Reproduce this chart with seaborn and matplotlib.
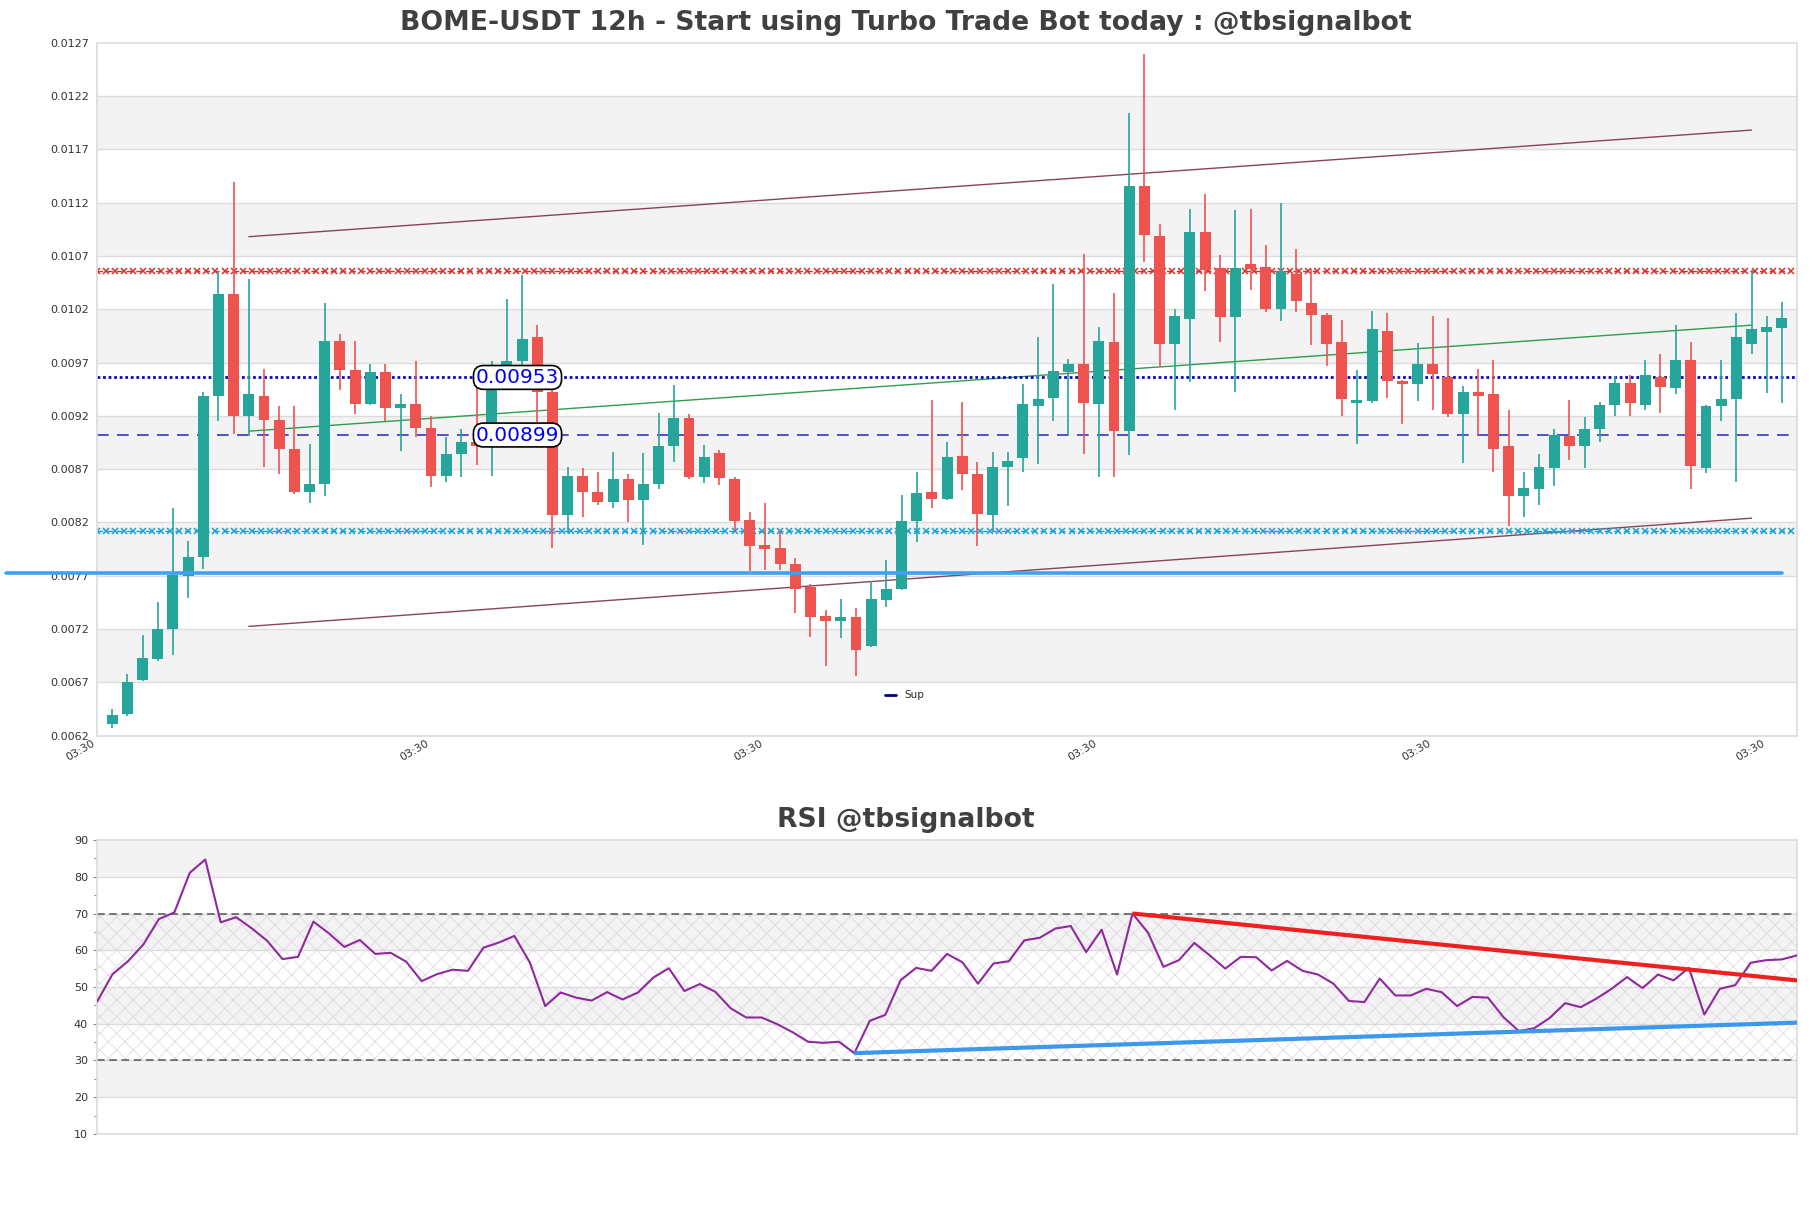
import numpy as np
import pandas as pd
import matplotlib
matplotlib.use("Agg")
import matplotlib.pyplot as plt
from matplotlib.lines import Line2D
import seaborn as sns

# ---------------- data (prices in units of 1e-4 USDT) ----------------
opens = [62.8, 63.7, 66.9, 68.9, 71.7, 76.7, 78.5, 93.6, 103.1, 91.7,
         93.6, 91.3, 88.6, 84.6, 85.3, 98.7, 96.0, 92.8, 95.8, 92.4,
         92.8, 90.6, 86.1, 88.1, 89.2, 88.9, 94.7, 96.8, 99.1, 93.9,
         82.4, 86.1, 84.6, 83.6, 85.8, 83.8, 85.3, 88.9, 91.5, 86.0,
         88.2, 85.8, 81.9, 79.6, 79.3, 77.8, 75.6, 72.9, 72.5, 72.8,
         70.1, 74.4, 75.5, 81.8, 84.6, 83.9, 87.9, 86.2, 82.4, 86.9,
         87.7, 92.6, 93.4, 95.8, 96.6, 92.8, 98.6, 90.3, 113.3, 108.6,
         98.4, 100.8, 108.9, 105.6, 101.0, 105.9, 105.7, 101.7, 105.0, 102.3,
         101.2, 98.6, 92.9, 93.1, 99.7, 95.0, 94.7, 96.6, 95.3, 91.9,
         93.9, 93.7, 88.9, 84.2, 84.8, 86.8, 89.8, 88.9, 90.5, 92.7,
         94.8, 92.7, 95.3, 94.3, 96.9, 86.8, 92.6, 93.3, 98.4, 99.6,
         99.9]
highs = [64.2, 67.5, 71.1, 74.2, 83.1, 80.0, 93.9, 105.3, 113.6, 104.5,
         96.1, 92.6, 92.6, 89.1, 102.3, 99.4, 98.7, 96.6, 96.6, 93.7,
         96.8, 91.7, 89.7, 90.5, 94.5, 96.8, 102.7, 104.9, 100.2, 94.7,
         86.9, 86.8, 86.4, 88.3, 86.2, 88.2, 92.0, 94.6, 91.9, 89.0,
         88.5, 86.0, 82.7, 83.5, 81.0, 78.4, 75.9, 73.5, 74.5, 73.7,
         76.2, 78.2, 84.3, 86.4, 93.2, 89.2, 93.0, 87.4, 88.3, 88.3,
         94.7, 99.1, 104.1, 97.0, 106.9, 100.0, 103.2, 120.1, 125.6, 109.7,
         101.7, 111.1, 112.5, 106.8, 111.0, 111.1, 107.7, 111.7, 107.3, 105.5,
         101.3, 100.7, 96.0, 101.5, 101.3, 95.1, 98.5, 101.1, 100.9, 94.5,
         96.1, 96.9, 92.2, 86.4, 88.1, 90.5, 93.2, 91.6, 93.0, 95.4,
         95.5, 96.9, 97.5, 100.2, 98.6, 92.7, 96.9, 101.3, 105.4, 101.1,
         102.4]
lows = [62.4, 63.5, 66.8, 68.7, 69.3, 74.6, 77.3, 91.2, 90.0, 89.8,
        86.9, 86.2, 84.4, 83.5, 84.2, 94.1, 91.9, 92.7, 91.2, 88.4,
        89.7, 85.0, 85.5, 86.0, 87.1, 86.1, 94.5, 96.5, 91.1, 79.3,
        80.7, 82.2, 83.3, 83.1, 81.7, 79.6, 84.8, 87.4, 85.8, 85.4,
        85.2, 81.0, 77.1, 77.2, 77.2, 73.2, 71.0, 68.2, 70.9, 67.3,
        70.0, 73.8, 75.4, 79.9, 83.1, 83.8, 84.7, 79.5, 80.9, 83.2,
        86.4, 87.2, 91.2, 89.9, 88.1, 86.0, 86.0, 88.0, 106.1, 96.3,
        92.2, 94.9, 103.4, 98.6, 93.9, 103.5, 101.4, 100.6, 101.4, 98.3,
        96.4, 91.7, 89.1, 92.9, 93.4, 90.9, 93.1, 92.2, 91.6, 87.3,
        89.9, 86.4, 81.4, 82.2, 83.3, 85.1, 87.6, 86.8, 89.2, 91.7,
        91.7, 92.2, 92.0, 93.7, 84.8, 86.3, 91.2, 85.5, 97.5, 93.8,
        92.9]
closes = [63.6, 66.7, 69.0, 71.7, 76.8, 78.5, 93.6, 103.1, 91.7, 93.7,
          91.3, 88.6, 84.6, 85.3, 98.7, 96.0, 92.8, 95.8, 92.4, 92.8,
          90.6, 86.1, 88.1, 89.2, 88.9, 94.7, 96.8, 98.9, 93.9, 82.4,
          86.1, 84.6, 83.6, 85.8, 83.8, 85.3, 88.9, 91.5, 86.0, 87.8,
          85.9, 81.8, 79.5, 79.2, 77.8, 75.5, 72.8, 72.5, 72.8, 69.7,
          74.5, 75.5, 81.8, 84.5, 83.9, 87.8, 86.2, 82.5, 86.9, 87.5,
          92.8, 93.3, 95.9, 96.6, 92.9, 98.7, 90.3, 113.3, 108.7, 98.4,
          101.1, 108.9, 105.4, 101.0, 105.6, 105.5, 101.7, 105.3, 102.5, 101.2,
          98.4, 93.3, 93.2, 99.8, 95.0, 94.7, 96.6, 95.6, 91.9, 93.9,
          93.6, 88.6, 84.2, 84.9, 86.9, 89.9, 88.9, 90.5, 92.7, 94.8,
          92.9, 95.5, 94.4, 96.9, 87.0, 92.6, 93.3, 99.1, 99.8, 100.0,
          100.9]
rsi = [46.0, 53.5, 57.0, 61.6, 68.5, 70.3, 81.1, 84.7, 67.6, 69.0,
       66.0, 62.6, 57.6, 58.2, 67.8, 64.6, 60.9, 62.8, 59.0, 59.3,
       56.9, 51.6, 53.5, 54.7, 54.4, 60.7, 62.1, 63.9, 56.7, 44.8,
       48.5, 47.1, 46.3, 48.6, 46.6, 48.5, 52.6, 55.1, 48.9, 50.8,
       48.7, 44.2, 41.7, 41.7, 39.9, 37.7, 35.1, 34.8, 35.1, 32.0,
       40.8, 42.4, 51.9, 55.2, 54.4, 59.0, 56.7, 50.9, 56.4, 57.0,
       62.7, 63.4, 65.9, 66.6, 59.5, 65.6, 53.4, 70.0, 64.8, 55.5,
       57.3, 62.0, 58.6, 55.0, 58.2, 58.1, 54.5, 57.1, 54.4, 53.4,
       50.9, 46.2, 45.9, 52.3, 47.7, 47.7, 49.5, 48.6, 44.8, 47.3,
       47.1, 41.8, 38.0, 38.8, 41.6, 45.6, 44.5, 46.8, 49.5, 52.7,
       49.7, 53.4, 51.8, 55.2, 42.5, 49.5, 50.5, 56.6, 57.3, 57.5,
       58.6]

UNIT = 1e-4
sup_level = 0.00953
mid_level = 0.00899
support_line = 0.007697
res_x_level = 0.01053
sup_x_level = 0.008085
upper_channel = ([9, 108], [0.01085, 0.01185])
lower_channel = ([9, 108], [0.007195, 0.00821])
green_trend = ([9, 108], [0.009026, 0.01002])
rsi_res = ([67, 110], [70.0, 51.8])
rsi_sup = ([49, 110], [32.0, 40.3])
xtick_pos = [-1, 21, 43, 65, 87, 109]
xtick_labels = ["03:30"] * 6
title = "BOME-USDT 12h - Start using Turbo Trade Bot today : @tbsignalbot"
rsi_title = "RSI @tbsignalbot"

df = pd.DataFrame({"open": np.array(opens) * UNIT, "high": np.array(highs) * UNIT,
                   "low": np.array(lows) * UNIT, "close": np.array(closes) * UNIT})
df["idx"] = np.arange(len(df))
rsi_df = pd.DataFrame({"idx": np.arange(len(rsi)), "rsi": rsi})

# ---------------- style ----------------
sns.set_theme(style="white")
plt.rcParams["font.family"] = ["DejaVu Sans"]
plt.rcParams["hatch.linewidth"] = 0.5
GREEN = "#26a69a"
RED = "#ef5350"
GRID = "#dcdcdc"
BAND = "#f3f3f3"

fig = plt.figure(figsize=(18.11, 12.08), dpi=100)
ax = fig.add_axes([0.0536, 0.391, 0.9387, 0.5737])
ax2 = fig.add_axes([0.0536, 0.0613, 0.9387, 0.2433])

# ---------------- price panel ----------------
y0 = 0.00617
yt = [y0 + 0.0005 * k for k in range(14)]
ax.set_ylim(yt[0], yt[-1])
ax.set_xlim(-1, 111)
for k in range(13):
    if k % 2 == 1:
        ax.axhspan(yt[k], yt[k + 1], color=BAND, lw=0, zorder=0)
    ax.axhline(yt[k], color=GRID, lw=1, zorder=0.5)
ax.set_yticks(yt)
ax.set_yticklabels([f"{v:.4f}" for v in yt])

up = df["close"] >= df["open"]
colors = np.where(up, GREEN, RED)
ax.vlines(df["idx"], df["low"], df["high"], colors=colors, lw=1.2, zorder=3)
body = (df["close"] - df["open"]).abs().clip(lower=0.000006)
ax.bar(df["idx"], body, bottom=df[["open", "close"]].min(axis=1), width=0.72,
       color=colors, lw=0, zorder=4)

# channel and trend lines
ax.plot(*upper_channel, color="#8a4453", lw=1.0, zorder=2)
ax.plot(*lower_channel, color="#8a4453", lw=1.0, zorder=2)
ax.plot(*green_trend, color="#2e9e4a", lw=1.0, zorder=2)

# x-marker levels
xs = np.arange(-1, 111.01, 0.6)
ax.plot(xs, np.full_like(xs, res_x_level), color="#d9302c", lw=1.0, ls=(0, (4, 3)),
        marker="x", ms=4, mew=1.1, zorder=2)
ax.plot(xs, np.full_like(xs, sup_x_level), color="#1aa0d8", lw=1.0, ls=(0, (4, 3)),
        marker="x", ms=4, mew=1.1, zorder=2)

# horizontal levels
ax.axhline(sup_level, color="#0a0ab4", lw=2.0, ls=(0, (1, 1)), zorder=2)
ax.axhline(mid_level, color="#3535c8", lw=1.2, ls=(0, (7, 5)), zorder=2)
ax.plot([-7, 110], [support_line, support_line], color="#42a0f0", lw=2.6,
        zorder=5, clip_on=False)

box = dict(boxstyle="round,pad=0.12,rounding_size=0.5", fc="white", ec="black", lw=1.2)
ax.text(26.7, sup_level, "0.00953", color="#0000ee", fontsize=14.5, ha="center",
        va="center", bbox=box, zorder=6)
ax.text(26.7, mid_level, "0.00899", color="#0000ee", fontsize=14.5, ha="center",
        va="center", bbox=box, zorder=6)

ax.set_xticks(xtick_pos)
ax.set_xticklabels(xtick_labels, rotation=30, ha="right", fontsize=8, color="#333333")
ax.tick_params(axis="y", labelsize=8, labelcolor="#333333", length=0, pad=6)
ax.tick_params(axis="x", length=0, pad=2)
for s in ax.spines.values():
    s.set_color(GRID)
    s.set_linewidth(1.2)

leg = ax.legend(handles=[Line2D([0], [0], color="#00008b", lw=2)], labels=["Sup"],
                loc="center", bbox_to_anchor=(0.475, 0.058), frameon=False,
                fontsize=7.5, handlelength=1.0, handletextpad=0.8)

fig.text(0.5, 0.981, title, ha="center", va="center", fontsize=19.2,
         fontweight="bold", color="#404040")

# ---------------- RSI panel ----------------
ax2.set_xlim(0, 110)
ax2.set_ylim(10, 90)
for k, lo in enumerate(range(10, 90, 10)):
    if k % 2 == 1:
        ax2.axhspan(lo, lo + 10, color=BAND, lw=0, zorder=0)
    ax2.axhline(lo, color=GRID, lw=1, zorder=0.5)
ax2.fill_between([0, 110], 30, 70, facecolor="none", hatch="xx",
                 edgecolor="#e0d2e4", lw=0, zorder=1)
ax2.axhline(70, color="#555555", lw=1.1, ls=(0, (5, 3)), zorder=2)
ax2.axhline(30, color="#555555", lw=1.1, ls=(0, (5, 3)), zorder=2)
sns.lineplot(data=rsi_df, x="idx", y="rsi", ax=ax2, color="#8e2a9c", lw=1.5, zorder=4)
ax2.plot(*rsi_res, color="#f02020", lw=3, zorder=5, solid_capstyle="butt")
ax2.plot(*rsi_sup, color="#3c98ea", lw=3, zorder=5, solid_capstyle="butt")

ax2.set_yticks(range(10, 91, 10))
ax2.set_yticks(range(15, 90, 10), minor=True)
ax2.tick_params(axis="y", which="both", left=True, labelsize=8, labelcolor="#333333",
                length=3, color="#888888", width=0.8)
ax2.tick_params(axis="y", which="minor", length=2)
ax2.set_xticks([])
ax2.set_xlabel("")
ax2.set_ylabel("")
for s in ax2.spines.values():
    s.set_color(GRID)
    s.set_linewidth(1.2)

fig.text(0.5, 0.321, rsi_title, ha="center", va="center", fontsize=19.2,
         fontweight="bold", color="#404040")

fig.savefig("out.png", dpi=100)
